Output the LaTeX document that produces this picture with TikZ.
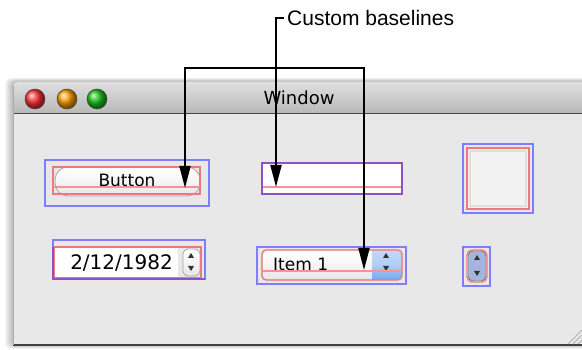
\documentclass[tikz,border=0pt]{standalone}
\usepackage{fontspec}
\setmainfont{Liberation Sans}
\newfontfamily\aquafont{DejaVu Sans}
\usetikzlibrary{arrows.meta}
\definecolor{alignblue}{RGB}{130,125,255}
\definecolor{layoutred}{RGB}{240,120,125}
\definecolor{bothpurple}{RGB}{145,80,200}
\definecolor{windowgray}{RGB}{232,232,232}
\definecolor{popupblue}{RGB}{80,145,235}
\definecolor{stepperblue}{RGB}{165,182,222}
\tikzstyle{baselinearrow}=[-{Triangle[length=22pt,width=11pt]},line width=2pt]
\tikzstyle{alignframe}=[draw=alignblue,line width=1.2pt]
\tikzstyle{layoutframe}=[draw=layoutred,line width=1.2pt]
\tikzstyle{baselinemark}=[draw=layoutred!80,line width=1.2pt]
\tikzstyle{aquatext}=[font=\aquafont\fontsize{17}{17}\selectfont,inner sep=0pt]
\tikzstyle{aquabutton}=[draw=gray!70,line width=0.8pt,top color=white,bottom color=gray!20,middle color=gray!8]
\def\steparrows(#1)(#2)% Syntax: (up arrow centre) (down arrow centre)
    { \fill[black!80] (#1) ++(-3,2) -- ++(6,0) -- ++(-3,-5) -- cycle;
      \fill[black!80] (#2) ++(-3,-2) -- ++(6,0) -- ++(-3,5) -- cycle; }

\begin{document}
\begin{tikzpicture}[x=1pt,y=-1pt]
\useasboundingbox (0,0) rectangle (582,350);
\clip (0,0) rectangle (582,350);
% window and its shadow
\foreach \d in {1,...,8}
  \fill[black,opacity=0.035,rounded corners=6] (13-\d,82-\d/2) rectangle (600,345+\d/2);
\fill[windowgray] (13,113) rectangle (600,345);
\shade[top color=gray!25,bottom color=gray!55] (13,113) [rounded corners=5] -- (13,82) -- (600,82) [sharp corners] -- (600,113) -- cycle;
\draw[gray!55!black,line width=0.8pt] (13,113) -- (600,113);
\draw[gray!50!black,line width=1.5pt] (13,345) -- (600,345);
\draw[gray!65,line width=0.6pt] (13,86) -- (13,345);
\foreach \cx/\col in {35/red!80, 67/orange!75!yellow, 97/green!75!black!90}
  \shade[ball color=\col,draw=gray!50!black,line width=0.5pt] (\cx,99) circle (10pt);
\node[aquatext,anchor=base,font=\aquafont\fontsize{18}{18}\selectfont] (title) at (299,105) {Window};
\foreach \o in {0,5,10}
  \draw[gray!60,line width=0.8pt] (568+\o,344) -- (582,330+\o);

% push button
\draw[aquabutton,rounded corners=13] (55,167) rectangle (200,196);
\node[aquatext,anchor=base] (buttonlabel) at (127,187) {Button};
\draw[layoutframe] (53,167) rectangle (200,194);
\draw[baselinemark] (53,187) -- (200,187);
\draw[alignframe] (45,160) rectangle (209,206);
\coordinate (buttonbase) at (185,188);

% text field
\fill[white] (262,163) rectangle (402,194);
\draw[baselinemark] (262,187) -- (402,187);
\draw[draw=bothpurple,line width=1.2pt] (262,163) rectangle (402,194);
\coordinate (fieldbase) at (276,187);

% box
\fill[gray!10] (467,148) rectangle (529,209);
\draw[gray!25,line width=2.5pt] (470,151) rectangle (526,206);
\draw[layoutframe] (467,148) rectangle (529,209);
\draw[alignframe] (463,144) rectangle (533,213);

% date picker
\fill[white] (54,247) rectangle (178,278);
\node[aquatext,anchor=base east,font=\aquafont\fontsize{20}{20}\selectfont] (datetext) at (173,270) {2/12/1982};
\draw[aquabutton,rounded corners=5] (183,249) rectangle (200,276);
\steparrows(191,256)(191,268)
\draw[layoutframe] (54,247) rectangle (201,278);
\draw[alignframe] (53,240) rectangle (205,279);
\draw[bothpurple,line width=1.2pt] (53,247) -- (53,279) -- (205,279);

% pop-up button
\draw[aquabutton,rounded corners=5] (262,250) rectangle (402,280);
\begin{scope}
  \clip[rounded corners=5] (262,250) rectangle (402,280);
  \shade[top color=popupblue!35,bottom color=popupblue!80,middle color=popupblue!45] (372,250) rectangle (402,280);
\end{scope}
\steparrows(386,256)(386,268)
\node[aquatext,anchor=base west] (itemlabel) at (273,271) {Item 1};
\draw[layoutframe,rounded corners=4] (262,250) rectangle (402,280);
\draw[baselinemark] (262,271) -- (402,271);
\draw[alignframe] (257,247) rectangle (406,284);
\coordinate (itembase) at (364,270);

% stepper
\draw[alignframe] (463,247) rectangle (490,286);
\draw[draw=gray!60!black,fill=stepperblue,rounded corners=5] (468,251) rectangle (486,281);
\steparrows(477,258)(477,273)
\draw[layoutframe,rounded corners=5] (467,250) rectangle (487,282);

% callout
\node[anchor=base west,font=\fontsize{21}{21}\selectfont,inner xsep=3pt,inner ysep=0pt] (callout) at (284,26) {Custom baselines};
\coordinate (hub) at (276,68);
\draw[baselinearrow] (callout.west) -| (fieldbase);
\draw[baselinearrow] (hub) -| (buttonbase);
\draw[baselinearrow] (hub) -| (itembase);
\end{tikzpicture}
\end{document}
